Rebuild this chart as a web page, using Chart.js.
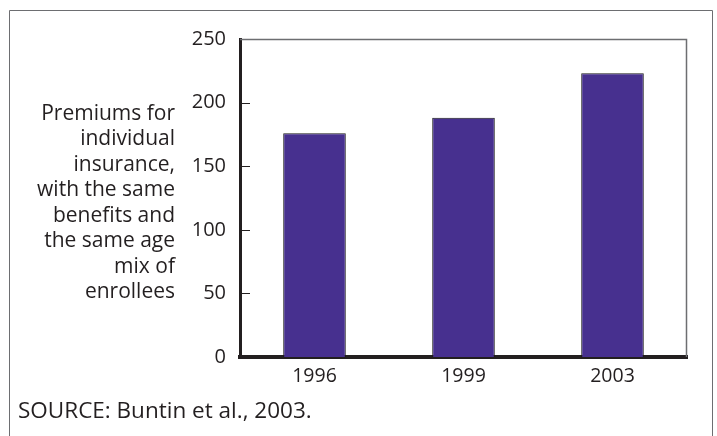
<!DOCTYPE html>
<html>
<head>
<meta charset="utf-8">
<script src="https://cdn.jsdelivr.net/npm/chart.js@4"></script>
<style>
  html, body { margin: 0; padding: 0; background: #fff; }
  #wrap { width: 717px; height: 436px; position: relative; }
</style>
</head>
<body>
<div id="wrap"><canvas id="c" width="717" height="436"></canvas></div>
<script>
const categories = ["1996", "1999", "2003"];
const premiums = [176, 188, 223];
const yTicks = [0, 50, 100, 150, 200, 250];
const yTitleLines = ["Premiums for", "individual", "insurance,", "with the same", "benefits and", "the same age", "mix of", "enrollees"];
const sourceText = "SOURCE: Buntin et al., 2003.";

const FONT = "'Open Sans', 'Noto Sans', sans-serif";
const TEXT = "#231f20";

const decor = {
  id: "decor",
  beforeDraw(chart) {
    const ctx = chart.ctx;
    ctx.save();
    ctx.strokeStyle = "#6d6e71";
    ctx.lineWidth = 1;
    ctx.beginPath();
    ctx.moveTo(9.5, 440);
    ctx.lineTo(9.5, 10.5);
    ctx.lineTo(712.5, 10.5);
    ctx.lineTo(712.5, 440);
    ctx.stroke();
    ctx.restore();
  },
  afterDraw(chart) {
    const ctx = chart.ctx;
    const a = chart.chartArea;
    const y = chart.scales.y;
    ctx.save();
    ctx.strokeStyle = "#6d6e71";
    ctx.lineWidth = 1.5;
    ctx.beginPath();
    ctx.moveTo(a.left, a.top + 0.5);
    ctx.lineTo(a.right - 0.5, a.top + 0.5);
    ctx.lineTo(a.right - 0.5, a.bottom);
    ctx.stroke();
    ctx.strokeStyle = TEXT;
    ctx.lineWidth = 1;
    yTicks.forEach(v => {
      if (v === 0 || v === 250) return;
      const py = Math.round(y.getPixelForValue(v)) + 0.5;
      ctx.beginPath();
      ctx.moveTo(a.left, py);
      ctx.lineTo(a.left + 10, py);
      ctx.stroke();
    });
    ctx.fillStyle = TEXT;
    ctx.font = "21px " + FONT;
    ctx.textAlign = "right";
    ctx.textBaseline = "middle";
    yTitleLines.forEach((t, i) => {
      ctx.fillText(t, 175, 114 + i * 25.5);
    });
    ctx.textAlign = "left";
    ctx.font = "22.5px " + FONT;
    ctx.fillText(sourceText, 18, 412);
    ctx.restore();
  }
};

new Chart(document.getElementById("c"), {
  type: "bar",
  data: {
    labels: categories,
    datasets: [{
      data: premiums,
      backgroundColor: "#47308f",
      borderColor: "#1a1a1a",
      borderWidth: 1,
      categoryPercentage: 1,
      barPercentage: 0.42
    }]
  },
  options: {
    responsive: false,
    animation: false,
    layout: { padding: { left: 0, top: 39, right: 30, bottom: 0 } },
    plugins: { legend: { display: false }, tooltip: { enabled: false } },
    scales: {
      x: {
        grid: { display: false, drawTicks: false },
        border: { display: true, width: 4, color: TEXT },
        ticks: { color: TEXT, font: { family: FONT, size: 19.5 }, padding: 8 },
        afterFit(s) { s.height = 79; }
      },
      y: {
        min: 0, max: 250,
        afterBuildTicks(s) { s.ticks = yTicks.map(v => ({ value: v })); },
        grid: { display: false, drawTicks: false },
        border: { display: true, width: 3, color: TEXT },
        ticks: { color: TEXT, font: { family: FONT, size: 20 }, padding: 14 },
        afterFit(s) { s.width = 240; }
      }
    }
  },
  plugins: [decor]
});
</script>
</body>
</html>
